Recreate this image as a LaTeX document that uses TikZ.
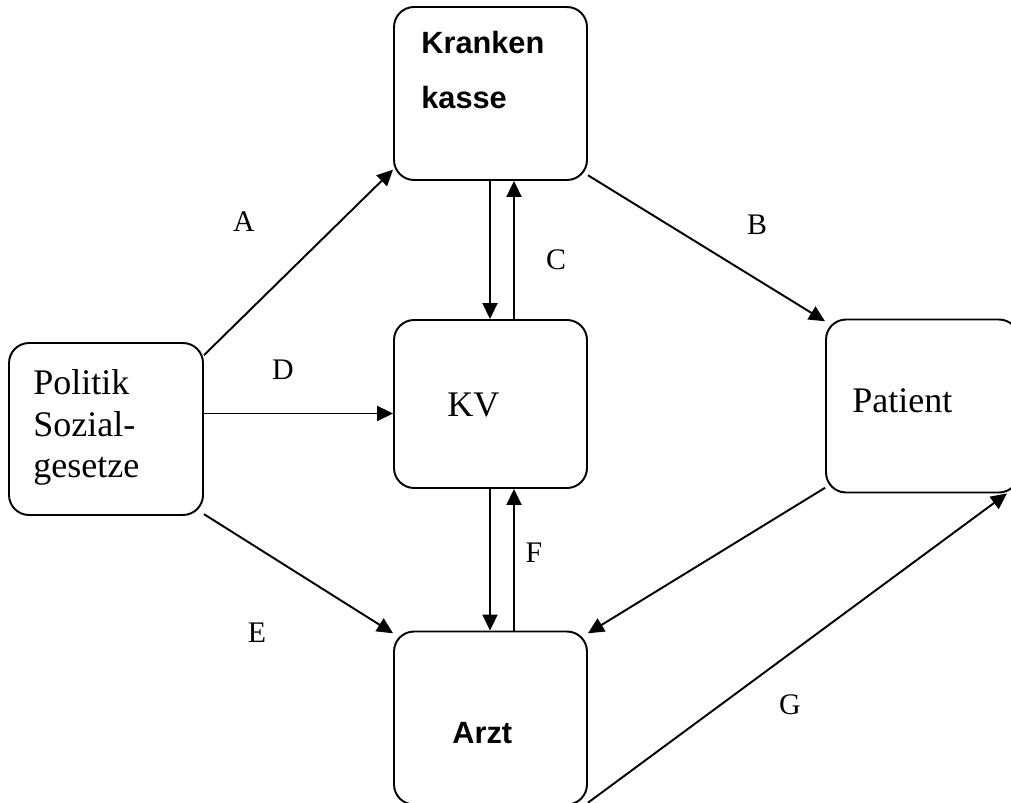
\documentclass[tikz,border=0pt]{standalone}
\usepackage{fontspec}
\setmainfont{Liberation Serif}
\setsansfont{Liberation Sans}
\usetikzlibrary{arrows.meta}

\tikzset{
  box/.style={draw, line width=1.1pt, rounded corners=0.4cm, minimum width=3.86cm, minimum height=3.46cm, inner sep=0pt},
  arr/.style={line width=1.1pt, -{Triangle[length=0.32cm,width=0.3cm]}},
  lbl/.style={font=\fontsize{17}{20}\selectfont},
  txt/.style={font=\fontsize{20.5}{23}\selectfont, anchor=base west, inner sep=0pt},
  boldtxt/.style={font=\sffamily\bfseries\fontsize{17.5}{20}\selectfont, anchor=base west, inner sep=0pt}
}

\begin{document}
\begin{tikzpicture}[x=0.02cm,y=-0.02cm]
    \useasboundingbox (0,0) rectangle (1011,803);
    \clip (0,0) rectangle (1011,803);

    % boxes
    \node[box] (kasse) at (490.5,93.5) {};
    \node[box, minimum height=3.36cm] (kv) at (490.5,404) {};
    \node[box] (arzt) at (490.5,718) {};
    \node[box, minimum width=3.88cm, minimum height=3.44cm] (politik) at (106,429) {};
    \node[box] (patient) at (922.5,406) {};

    % texts in the boxes
    \node[boldtxt] (kassetop) at (421,54) {Kranken};
    \node[boldtxt] (kassebot) at (421,109) {kasse};
    \node[txt] (kvtxt) at (447,417) {KV};
    \node[boldtxt] (arzttxt) at (452,743) {Arzt};
    \node[txt] (pattxt) at (852,413) {Patient};
    \node[txt] (pol1) at (33,395) {Politik};
    \node[txt] (pol2) at (33,437) {Sozial-};
    \node[txt] (pol3) at (33,478) {gesetze};

    % connectors
    \draw[arr] (politik.37) -- (kasse.218);
    \draw[arr] (kasse.-40) -- (patient.139);
    \draw[arr] ([xshift=-0.01cm]kasse.south) -- ([xshift=-0.01cm]kv.north);
    \draw[arr] ([xshift=0.47cm]kv.north) -- ([xshift=0.47cm]kasse.south);
    \draw[arr] (politik.9) -- (politik.9 -| kv.west);
    \draw[arr] (politik.-41) -- (arzt.139);
    \draw[arr] ([xshift=-0.01cm]kv.south) -- ([xshift=-0.01cm]arzt.north);
    \draw[arr] ([xshift=0.47cm]arzt.north) -- ([xshift=0.47cm]kv.south);
    \draw[arr] (patient.220) -- (arzt.41);
    \draw[arr] (arzt.-41) -- (patient.-46);

    % letters
    \node[lbl] (la) at (244,222) {A};
    \node[lbl] (lb) at (757,225) {B};
    \node[lbl] (lc) at (556,260) {C};
    \node[lbl] (ld) at (283,370) {D};
    \node[lbl] (le) at (257,633) {E};
    \node[lbl] (lf) at (534,553) {F};
    \node[lbl] (lg) at (790,705) {G};
\end{tikzpicture}
\end{document}
